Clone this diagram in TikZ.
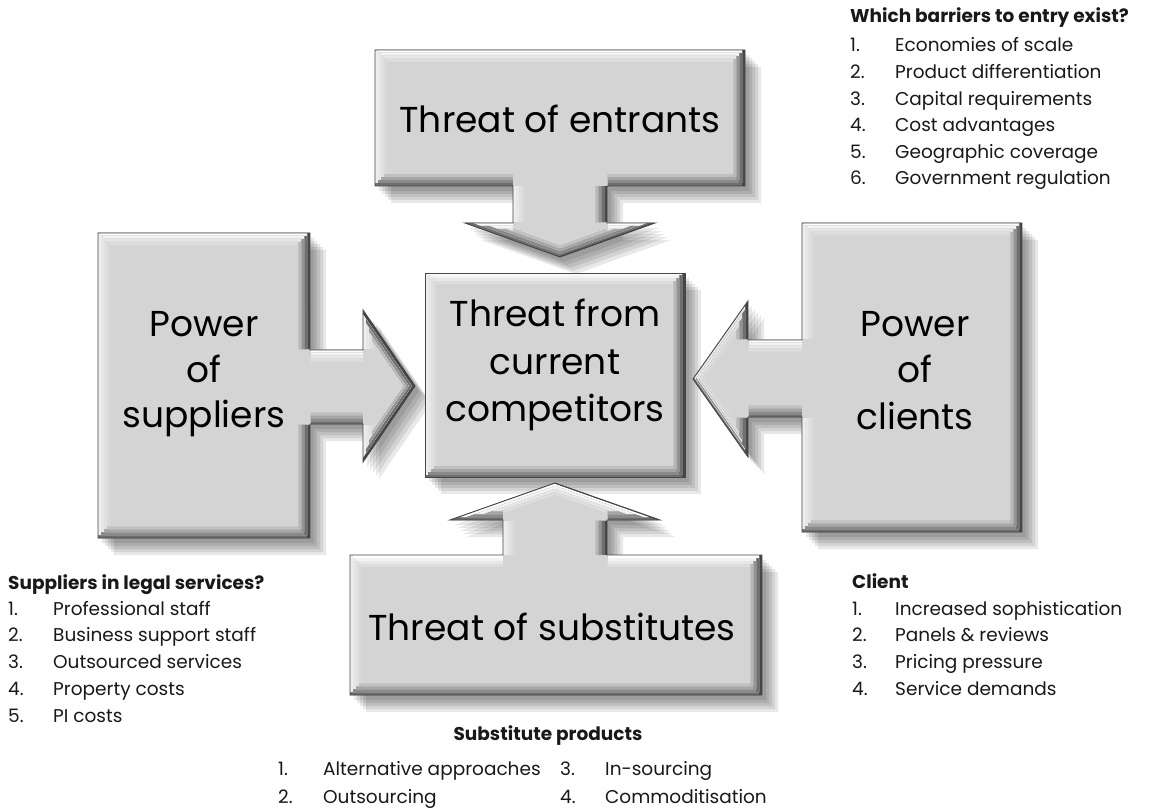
\documentclass[tikz,border=0pt]{standalone}
\usepackage{fontspec}
\setmainfont{Poppins}
\definecolor{boxface}{RGB}{212,212,212}
\definecolor{edgetop}{RGB}{255,255,255}
\definecolor{edgeleft}{RGB}{238,238,238}
\definecolor{edgebottom}{RGB}{110,110,110}
\definecolor{edgeright}{RGB}{70,70,70}
\definecolor{outlinecol}{RGB}{70,70,70}
\definecolor{txt}{RGB}{25,25,25}
\newcommand\pEntr{(375,50) -- (745,50) -- (745,186) -- (607,186) -- (607,223) -- (655,223) -- (560,257) -- (465,223) -- (513,223) -- (513,186) -- (375,186) -- cycle}
\newcommand\pSupp{(98,233) -- (310,233) -- (310,350) -- (363,350) -- (363,310) -- (415,386) -- (363,462) -- (363,424) -- (310,424) -- (310,538) -- (98,538) -- cycle}
\newcommand\pClie{(802,223) -- (1022,223) -- (1022,532) -- (802,532) -- (802,417) -- (748,417) -- (748,457) -- (693,379) -- (748,301) -- (748,340) -- (802,340) -- cycle}
\newcommand\pComp{(425,273) -- (685,273) -- (685,477) -- (425,477) -- cycle}
\newcommand\pSubs{(350,555) -- (503,555) -- (503,520) -- (450,520) -- (555,483) -- (660,520) -- (607,520) -- (607,555) -- (762,555) -- (762,695) -- (350,695) -- cycle}
\newcommand\dropshadow[1]{%
  \foreach \s in {4,7,10,13,16} {\fill[black, opacity=0.09, shift={(\s,\s+1)}] #1;}%
}
% one bevel stage: path, cumulative offset, strength (percent of edge colour)
\newcommand\bevelstage[3]{%
  \fill[edgeright!#3!boxface] #1;
  \clip[shift={(-#2,0)}] #1;
  \fill[edgebottom!#3!boxface] #1;
  \clip[shift={(0,-#2)}] #1;
  \fill[edgeleft!#3!boxface] #1;
  \clip[shift={(#2,0)}] #1;
  \fill[edgetop!#3!boxface] #1;
  \clip[shift={(0,#2)}] #1;
}
\newcommand\bevelshape[1]{%
  \begin{scope}
    \clip #1;
    \bevelstage{#1}{3}{100}
    \bevelstage{#1}{6}{72}
    \bevelstage{#1}{9}{45}
    \bevelstage{#1}{12}{20}
    \fill[boxface] #1;
  \end{scope}
  \draw[outlinecol, line width=0.9pt, line join=miter] #1;
}
\tikzset{
  bigtext/.style={font=\fontsize{36}{44}\selectfont, text=black, inner sep=0pt, anchor=base},
  listtext/.style={font=\fontsize{18.5}{22}\selectfont, text=txt, inner sep=0pt, anchor=base west},
  headtext/.style={font=\fontsize{18.5}{22}\selectfont\bfseries, text=txt, inner sep=0pt, anchor=base west},
}
\begin{document}
\begin{tikzpicture}[x=1pt, y=-1pt]
\fill[white] (0,0) rectangle (1149,810);
\useasboundingbox (0,0) rectangle (1149,810);
% shadows
\dropshadow{\pEntr}
\dropshadow{\pSupp}
\dropshadow{\pClie}
\dropshadow{\pSubs}
\dropshadow{\pComp}
% shapes
\bevelshape{\pEntr}
\bevelshape{\pSupp}
\bevelshape{\pClie}
\bevelshape{\pSubs}
\bevelshape{\pComp}
% box texts
\node[bigtext] (entr) at (560,133) {Threat of entrants};
\node[bigtext] (comp1) at (555,327) {Threat from};
\node[bigtext] (comp2) at (555,374) {current};
\node[bigtext] (comp3) at (555,421) {competitors};
\node[bigtext] (supp1) at (204,337) {Power};
\node[bigtext] (supp2) at (204,382) {of};
\node[bigtext] (supp3) at (204,427) {suppliers};
\node[bigtext] (clie1) at (915,337) {Power};
\node[bigtext] (clie2) at (915,383) {of};
\node[bigtext] (clie3) at (915,429) {clients};
\node[bigtext] (subs) at (552,640) {Threat of substitutes};
% barriers list
\node[headtext] (bh) at (850,23) {Which barriers to entry exist?};
\foreach \i/\t [count=\k] in {52/Economies of scale, 78.6/Product differentiation, 105.2/Capital requirements, 131.8/Cost advantages, 158.4/Geographic coverage, 185/Government regulation} {
  \node[listtext] (bn\k) at (850,\i) {\k.};
  \node[listtext] (bt\k) at (895,\i) {\t};
}
% suppliers list
\node[headtext] (sh) at (8,589) {Suppliers in legal services?};
\foreach \i/\t [count=\k] in {615/Professional staff, 641.75/Business support staff, 668.5/Outsourced services, 695.25/Property costs, 722/PI costs} {
  \node[listtext] (sn\k) at (8,\i) {\k.};
  \node[listtext] (st\k) at (53,\i) {\t};
}
% client list
\node[headtext] (ch) at (852,588) {Client};
\foreach \i/\t [count=\k] in {615/Increased sophistication, 641.7/Panels \& reviews, 668.4/Pricing pressure, 695/Service demands} {
  \node[listtext] (cn\k) at (852,\i) {\k.};
  \node[listtext] (ct\k) at (895,\i) {\t};
}
% substitute list
\node[headtext, anchor=base] (subh) at (548,740) {Substitute products};
\node[listtext] (un1) at (278,775) {1.};
\node[listtext] (ut1) at (323,775) {Alternative approaches};
\node[listtext] (un2) at (278,803) {2.};
\node[listtext] (ut2) at (323,803) {Outsourcing};
\node[listtext] (un3) at (560,775) {3.};
\node[listtext] (ut3) at (605,775) {In-sourcing};
\node[listtext] (un4) at (560,803) {4.};
\node[listtext] (ut4) at (605,803) {Commoditisation};
\end{tikzpicture}
\end{document}
